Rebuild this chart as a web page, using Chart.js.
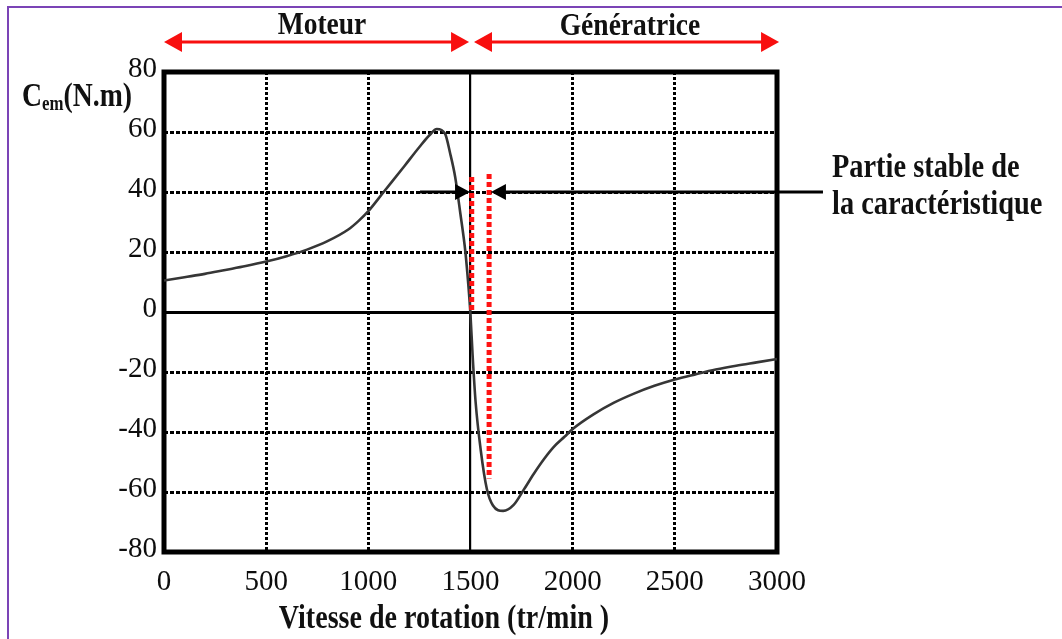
<!DOCTYPE html>
<html>
<head>
<meta charset="utf-8">
<script src="https://cdn.jsdelivr.net/npm/chart.js@4.4.1/dist/chart.umd.min.js"></script>
<style>
  html, body { margin: 0; padding: 0; background: #fff; }
  canvas { display: block; }
</style>
</head>
<body>
<canvas id="torqueChart" width="1062" height="639"></canvas>
<script>
// ---------------- DATA ----------------
// speed (tr/min) and electromagnetic torque Cem (N.m)
const speed  = [0, 100, 200, 300, 400, 500, 600, 700, 800, 900, 950, 1000, 1075, 1175, 1250, 1300, 1335, 1375, 1400, 1425, 1450, 1475, 1490, 1500, 1510, 1525, 1550, 1580, 1610, 1660, 1710, 1760, 1810, 1860, 1910, 1960, 2000, 2100, 2200, 2300, 2400, 2500, 2600, 2700, 2800, 2900, 3000];
const torque = [10.5, 11.6, 12.7, 14, 15.3, 16.8, 18.6, 20.8, 23.6, 27.4, 30.2, 33.6, 40, 48.5, 55, 59, 61, 59.5, 53, 45, 33, 20, 8.5, -1, -14, -30, -46, -59, -64.5, -66.3, -64.4, -59.3, -53.9, -49, -44.8, -41.6, -39, -34.2, -30.3, -27.2, -24.6, -22.5, -20.8, -19.2, -17.9, -16.8, -15.7];

const xTicks = [0, 500, 1000, 1500, 2000, 2500, 3000];
const yTicks = [-80, -60, -40, -20, 0, 20, 40, 60, 80];

// red dotted limits of the stable zone
const stableLeftX  = [1506, 1506];
const stableLeftY  = [45, 0];
const stableRightX = [1591, 1591];
const stableRightY = [46, -55.5];

// region arrows (speed range) and the stable-part pointer (at Cem = 40)
const regionNames  = ["Moteur", "Génératrice"];
const regionFrom   = [0, 1517];
const regionTo     = [1493, 3010];
const pointerLevel = 40;
const pointerLeft  = [1253, 1498];   // from, tip
const pointerRight = [3225, 1600];   // from, tip

const toPoints = (xs, ys) => xs.map((v, i) => ({ x: v, y: ys[i] }));

// ---------------- HELPERS ----------------
const SERIF = "'Liberation Serif', 'DejaVu Serif', serif";

function narrowText(ctx, text, x, y, size, align, squeeze) {
  ctx.save();
  ctx.translate(x, y);
  ctx.scale(squeeze || 0.86, 1);
  ctx.font = "bold " + size + "px " + SERIF;
  ctx.fillStyle = "#111";
  ctx.textAlign = align || "left";
  ctx.textBaseline = "alphabetic";
  ctx.fillText(text, 0, 0);
  ctx.restore();
}

function arrowHead(ctx, tipX, y, dir, len, half) {
  ctx.beginPath();
  ctx.moveTo(tipX, y);
  ctx.lineTo(tipX - dir * len, y - half);
  ctx.lineTo(tipX - dir * len, y + half);
  ctx.closePath();
  ctx.fill();
}

// ---------------- DECORATION PLUGIN ----------------
const decor = {
  id: "decor",
  beforeDatasetsDraw(chart) {
    const { ctx, chartArea: a } = chart;
    ctx.save();
    ctx.strokeStyle = "#000";
    ctx.lineWidth = 5;
    ctx.strokeRect(a.left, a.top, a.right - a.left, a.bottom - a.top);
    ctx.restore();
  },
  afterDatasetsDraw(chart) {
    const { ctx } = chart;
    const sx = chart.scales.x, sy = chart.scales.y;

    // red double arrows above the plot
    ctx.save();
    ctx.strokeStyle = "#f80f0f";
    ctx.fillStyle = "#f80f0f";
    ctx.lineWidth = 3;
    const ay = 42;
    regionFrom.forEach((v, i) => {
      const x1 = sx.getPixelForValue(v), x2 = sx.getPixelForValue(regionTo[i]);
      ctx.beginPath();
      ctx.moveTo(x1 + 10, ay);
      ctx.lineTo(x2 - 10, ay);
      ctx.stroke();
      arrowHead(ctx, x1, ay, -1, 18, 10);
      arrowHead(ctx, x2, ay, 1, 18, 10);
    });
    ctx.restore();

    // black pointers to the stable part
    ctx.save();
    ctx.strokeStyle = "#000";
    ctx.fillStyle = "#000";
    ctx.lineWidth = 3;
    const py = sy.getPixelForValue(pointerLevel);
    [[pointerLeft, 1], [pointerRight, -1]].forEach(([p, dir]) => {
      const xa = sx.getPixelForValue(p[0]), xt = sx.getPixelForValue(p[1]);
      ctx.beginPath();
      ctx.moveTo(xa, py);
      ctx.lineTo(xt - dir * 8, py);
      ctx.stroke();
      arrowHead(ctx, xt, py, dir, 15, 8);
    });
    ctx.restore();
  },
  afterDraw(chart) {
    const { ctx } = chart;

    // texts
    narrowText(ctx, regionNames[0], 322, 34, 32, "center");
    narrowText(ctx, regionNames[1], 630, 35, 32, "center");
    narrowText(ctx, "Partie stable de", 832, 177, 33, "left");
    narrowText(ctx, "la caractéristique", 832, 214, 33, "left");
    narrowText(ctx, "Vitesse de rotation (tr/min )", 444, 628, 33, "center", 0.85);

    // y title: C_em(N.m)
    let x = 22;
    ctx.save();
    ctx.font = "bold 33px " + SERIF;
    const wC = ctx.measureText("C").width * 0.84;
    ctx.font = "bold 20px " + SERIF;
    const wEm = ctx.measureText("em").width * 0.84;
    ctx.restore();
    narrowText(ctx, "C", x, 106, 33, "left", 0.84);
    x += wC;
    narrowText(ctx, "em", x, 110, 20, "left", 0.84);
    x += wEm;
    narrowText(ctx, "(N.m)", x, 106, 33, "left", 0.84);

    // purple frame of the figure
    ctx.save();
    ctx.strokeStyle = "#7b44b6";
    ctx.lineWidth = 2;
    ctx.beginPath();
    ctx.moveTo(1062, 7);
    ctx.lineTo(8, 7);
    ctx.lineTo(8, 639);
    ctx.stroke();
    ctx.restore();
  }
};

// ---------------- CHART ----------------
const ctx = document.getElementById("torqueChart").getContext("2d");

const chart = new Chart(ctx, {
  type: "line",
  data: {
    datasets: [
      {
        data: toPoints(speed, torque),
        borderColor: "#363636",
        borderWidth: 2.6,
        pointRadius: 0,
        fill: false,
        cubicInterpolationMode: "monotone",
        order: 3
      },
      {
        data: toPoints(stableLeftX, stableLeftY),
        borderColor: "#ff1212",
        borderWidth: 5,
        borderDash: [5, 3],
        borderCapStyle: "butt",
        pointRadius: 0,
        fill: false,
        order: 1
      },
      {
        data: toPoints(stableRightX, stableRightY),
        borderColor: "#ff1212",
        borderWidth: 5,
        borderDash: [5, 3],
        borderCapStyle: "butt",
        pointRadius: 0,
        fill: false,
        order: 1
      }
    ]
  },
  options: {
    responsive: false,
    animation: false,
    devicePixelRatio: 1,
    layout: { padding: { left: 0, right: 285, top: 72, bottom: 0 } },
    plugins: {
      legend: { display: false },
      tooltip: { enabled: false }
    },
    scales: {
      x: {
        type: "linear",
        min: 0,
        max: 3000,
        afterBuildTicks: s => { s.ticks = xTicks.map(v => ({ value: v })); },
        afterFit: s => { s.height = 87; },
        grid: {
          color: "#000",
          lineWidth: c => (c.tick && c.tick.value === 1500 ? 2.2 : 3),
          drawTicks: false
        },
        border: {
          display: false,
          dash: c => (c.tick && c.tick.value === 1500 ? [] : [3, 2])
        },
        ticks: {
          autoSkip: false,
          maxRotation: 0,
          padding: 13,
          color: "#0d0d0d",
          font: { family: SERIF, size: 29 },
          callback: v => String(v)
        }
      },
      y: {
        min: -80,
        max: 80,
        afterBuildTicks: s => { s.ticks = yTicks.map(v => ({ value: v })); },
        afterFit: s => { s.width = 164; },
        grid: {
          color: "#000",
          lineWidth: 3,
          drawTicks: false
        },
        border: {
          display: false,
          dash: c => (c.tick && c.tick.value === 0 ? [] : [4, 2])
        },
        ticks: {
          padding: 7,
          labelOffset: -3,
          color: "#0d0d0d",
          font: { family: SERIF, size: 29 },
          callback: v => String(v)
        }
      }
    }
  },
  plugins: [decor]
});
</script>
</body>
</html>
